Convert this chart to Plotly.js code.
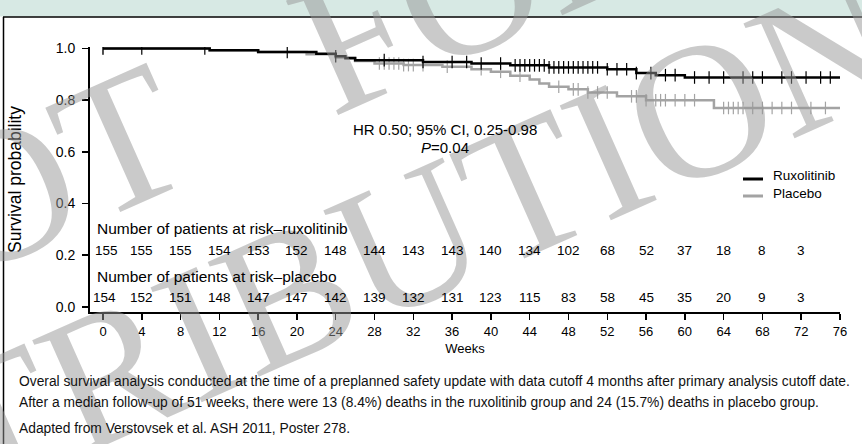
<!DOCTYPE html>
<html><head><meta charset="utf-8">
<script src="https://cdn.plot.ly/plotly-3.0.1.min.js"></script>
<style>html,body{margin:0;padding:0;background:#fff;}#chart{width:862px;height:444px;}</style>
</head><body><div id="chart"></div>
<script>
// ---- data ----
const riskWeeks = [0,4,8,12,16,20,24,28,32,36,40,44,48,52,56,60,64,68,72];
const riskRux = [155,155,155,154,153,152,148,144,143,143,140,134,102,68,52,37,18,8,3];
const riskPlacebo = [154,152,151,148,147,147,142,139,132,131,123,115,83,58,45,35,20,9,3];
const xTicks = [0,4,8,12,16,20,24,28,32,36,40,44,48,52,56,60,64,68,72,76];
const yTicks = [0,0.2,0.4,0.6,0.8,1.0];

const ruxTime = [0,11,16,22,24,25,26,33,38,42,46,52,55,57,60,76];
const ruxSurv = [1.0,0.993,0.987,0.980,0.970,0.962,0.955,0.948,0.942,0.935,0.927,0.920,0.905,0.897,0.888,0.888];
const plcTime = [0,11,16,21,24,26,28,31,35,38,40,42,44,45,46,48,50,53,56,63,76];
const plcSurv = [1.0,0.993,0.987,0.978,0.965,0.952,0.942,0.936,0.930,0.920,0.910,0.895,0.880,0.865,0.852,0.842,0.830,0.815,0.800,0.770,0.770];

const ruxCensor = [0,4,10.5,19,24,29,33,36,37.5,39,41,42.5,43,43.5,44,44.5,45,45.5,46,46.5,47,47.5,48,48.5,49,49.5,50,50.5,51,52,53,54,55,56.5,58,59,61,62.5,64,66,67,68,70,71,72.5,74,75];
const plcCensor = [0,28.5,29,29.5,30,30.5,31,31.5,32,33,35.5,39,41,43,47,48.5,49,50,51,52,54.5,55,56,57,57.5,58,59,60,61,64,64.5,65,65.5,66,67,68,69,70,71,73,74.5];

const seriesNames = ['Ruxolitinib','Placebo'];
const hrText = 'HR 0.50; 95% CI, 0.25-0.98';
const pText = '<i>P</i>=0.04';
const riskLabelRux = 'Number of patients at risk–ruxolitinib';
const riskLabelPlc = 'Number of patients at risk–placebo';
const captionLines = [
 'Overal survival analysis conducted at the time of a preplanned safety update with data cutoff 4 months after primary analysis cutoff date.',
 'After a median follow-up of 51 weeks, there were 13 (8.4%) deaths in the ruxolitinib group and 24 (15.7%) deaths in placebo group.',
 'Adapted from Verstovsek et al. ASH 2011, Poster 278.'
];
const watermark = ['NOT\u00a0\u00a0\u00a0FOR','DISTRIBUTION'];

// ---- geometry helpers ----
const W=862,H=444,L=90,R=22,T=47,B=132;
const pw=W-L-R, ph=H-T-B;
const px=p=>(p-L)/pw, py=p=>(H-B-p)/ph;
const SANS='"Liberation Sans",Arial,sans-serif';
const BLACK='#000', GREY='#a3a3a3';

function survAt(tArr,sArr,t){let v=sArr[0];for(let i=0;i<tArr.length;i++){if(tArr[i]<=t)v=sArr[i];}return v;}

const traces=[
 {x:plcTime,y:plcSurv,mode:'lines',line:{shape:'hv',color:GREY,width:2.5},name:seriesNames[1],hoverinfo:'skip'},
 {x:plcCensor,y:plcCensor.map(t=>survAt(plcTime,plcSurv,t)),mode:'markers',marker:{symbol:'line-ns',size:9,line:{color:GREY,width:1.2}},hoverinfo:'skip'},
 {x:ruxTime,y:ruxSurv,mode:'lines',line:{shape:'hv',color:BLACK,width:2.5},name:seriesNames[0],hoverinfo:'skip'},
 {x:ruxCensor,y:ruxCensor.map(t=>survAt(ruxTime,ruxSurv,t)),mode:'markers',marker:{symbol:'line-ns',size:9,line:{color:BLACK,width:1.2}},hoverinfo:'skip'}
];

const ann=[];
const wmFont={family:'"Liberation Serif",serif',size:192,color:'rgba(150,150,150,0.5)'};
ann.push({text:watermark[0],xref:'paper',yref:'paper',x:px(230),y:py(92),xanchor:'center',yanchor:'middle',showarrow:false,textangle:-24,font:wmFont});
ann.push({text:watermark[1],xref:'paper',yref:'paper',x:px(276),y:py(298),xanchor:'center',yanchor:'middle',showarrow:false,textangle:-24,font:wmFont});
// HR text
ann.push({text:hrText,xref:'paper',yref:'paper',x:px(445),y:py(129),showarrow:false,xanchor:'center',yanchor:'middle',font:{family:SANS,size:15,color:'#000'}});
ann.push({text:pText,xref:'paper',yref:'paper',x:px(445),y:py(147),showarrow:false,xanchor:'center',yanchor:'middle',font:{family:SANS,size:15,color:'#000'}});
// legend
ann.push({text:seriesNames[0],xref:'paper',yref:'paper',x:px(771),y:py(175),showarrow:false,xanchor:'left',yanchor:'middle',font:{family:SANS,size:13.5,color:'#000'}});
ann.push({text:seriesNames[1],xref:'paper',yref:'paper',x:px(771),y:py(193),showarrow:false,xanchor:'left',yanchor:'middle',font:{family:SANS,size:13.5,color:'#000'}});
// risk table
ann.push({text:riskLabelRux,xref:'paper',yref:'paper',x:px(95),y:py(228),showarrow:false,xanchor:'left',yanchor:'middle',font:{family:SANS,size:15.5,color:'#000'}});
ann.push({text:riskLabelPlc,xref:'paper',yref:'paper',x:px(95),y:py(276),showarrow:false,xanchor:'left',yanchor:'middle',font:{family:SANS,size:15.5,color:'#000'}});
riskWeeks.forEach((w,i)=>{
 ann.push({text:String(riskRux[i]),xref:'x',yref:'paper',x:w+(i===0?0.4:0),y:py(250),showarrow:false,xanchor:'center',yanchor:'middle',font:{family:SANS,size:13.5,color:'#000'}});
 ann.push({text:String(riskPlacebo[i]),xref:'x',yref:'paper',x:w+(i===0?0.2:0),y:py(297),showarrow:false,xanchor:'center',yanchor:'middle',font:{family:SANS,size:13.5,color:'#000'}});
});
// caption
[381,402,428].forEach((yy,i)=>{
 ann.push({text:captionLines[i],xref:'paper',yref:'paper',x:px(17),y:py(yy),showarrow:false,xanchor:'left',yanchor:'middle',font:{family:SANS,size:13.8,color:'#111'}});
});

const shapes=[
 {type:'rect',xref:'paper',yref:'paper',x0:px(0),x1:px(W),y0:py(16.5),y1:py(0),fillcolor:'#d7e9e4',line:{width:0},layer:'below'},
 {type:'line',xref:'paper',yref:'paper',x0:px(3),x1:px(W),y0:py(17),y1:py(17),line:{color:'#000',width:1.5}},
 {type:'line',xref:'paper',yref:'paper',x0:px(3.5),x1:px(3.5),y0:py(17),y1:py(H),line:{color:'#000',width:1.5}},
 {type:'line',xref:'paper',yref:'paper',x0:px(743),x1:px(763),y0:py(179),y1:py(179),line:{color:BLACK,width:3}},
 {type:'line',xref:'paper',yref:'paper',x0:px(743),x1:px(763),y0:py(196),y1:py(196),line:{color:GREY,width:3}}
];

const layout={
 width:W,height:H,margin:{l:L,r:R,t:T,b:B,pad:0},
 paper_bgcolor:'#fff',plot_bgcolor:'rgba(0,0,0,0)',showlegend:false,
 xaxis:{range:[-1.34,76],tickvals:xTicks,ticktext:xTicks.map(String),showgrid:false,zeroline:false,
   showline:true,linecolor:'#000',linewidth:2,ticks:'outside',ticklen:6,tickwidth:1.5,tickcolor:'#000',
   tickfont:{family:SANS,size:13,color:'#000'},
   title:{text:'Weeks',font:{family:SANS,size:13,color:'#000'},standoff:6}},
 yaxis:{range:[-0.02,1.006],tickvals:yTicks,ticktext:yTicks.map(v=>v.toFixed(1)),showgrid:false,zeroline:false,
   showline:true,linecolor:'#000',linewidth:2,ticks:'outside',ticklen:6,tickwidth:1.5,tickcolor:'#000',
   tickfont:{family:SANS,size:14,color:'#000'},ticklabelstandoff:4,
   title:{text:'Survival probability',font:{family:SANS,size:17.5,color:'#000'},standoff:30}},
 annotations:ann,shapes:shapes
};
Plotly.newPlot('chart',traces,layout,{staticPlot:true,displayModeBar:false});
</script></body></html>
